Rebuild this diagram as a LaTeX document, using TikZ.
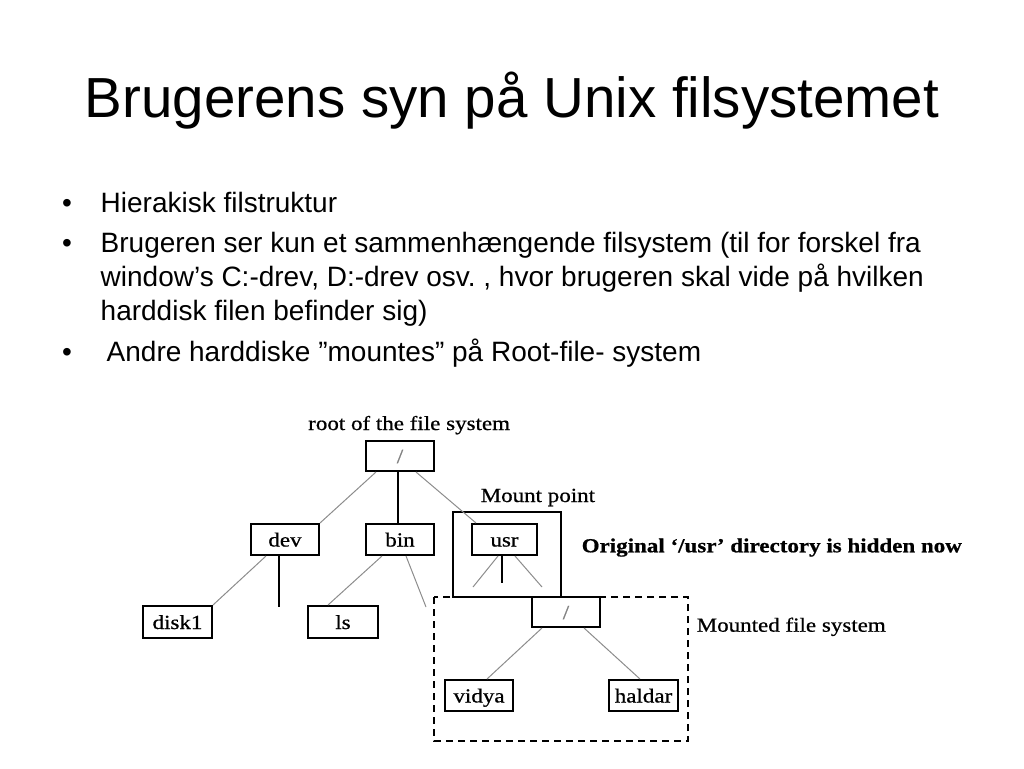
\documentclass[tikz,border=0pt]{standalone}
\usepackage{fontspec}
\setmainfont{Liberation Sans}
\newfontfamily\figfont[FakeStretch=1.15,FakeBold=0.7]{Liberation Serif}
\usetikzlibrary{positioning}
\usetikzlibrary{calc}
\frenchspacing

\begin{document}
\begin{tikzpicture}[x=1pt, y=-1pt,
  dirbox/.style={draw, line width=2pt, inner sep=0pt, minimum width=68pt, minimum height=31pt,
    text height=14pt, text depth=0pt, font=\figfont\fontsize{20}{20}\selectfont},
  figtext/.style={anchor=base west, inner sep=0pt, font=\figfont\fontsize{20}{20}\selectfont},
  slidetext/.style={anchor=base west, inner sep=0pt, font=\fontsize{28}{34}\selectfont},
  thin/.style={black!45, line width=1pt},
  thick/.style={black, line width=2pt}]

\useasboundingbox (0,0) rectangle (1024,768);

\node[anchor=base, inner sep=0pt, font=\fontsize{56.5}{60}\selectfont] (title) at (512,117.3) {Brugerens syn på Unix filsystemet};

\node[slidetext] (b1) at (62,212) {•};
\node[slidetext] (t1) at (100.5,212) {Hierakisk filstruktur};
\node[slidetext] (b2) at (62,252.3) {•};
\node[slidetext] (t2) at (100.5,252.3) {Brugeren ser kun et sammenhængende filsystem (til for forskel fra};
\node[slidetext] (t3) at (100.5,286.5) {window’s C:-drev, D:-drev osv. , hvor brugeren skal vide på hvilken};
\node[slidetext] (t4) at (100.5,320.5) {harddisk filen befinder sig)};
\node[slidetext] (b3) at (62,361.7) {•};
\node[slidetext] (t5) at (106.5,361.7) {Andre harddiske ”mountes” på Root-file- system};

% mount point and mounted file system
\draw[line width=2pt] (453,597) rectangle (561,512);
\draw[line width=2pt, dashed, dash pattern=on 7pt off 5pt] (434,597) rectangle (688,741);

\node[figtext] (rootlbl) at (308,430) {root of the file system};
\node[figtext] (mountlbl) at (480.5,502) {Mount point};
\node[figtext, font=\figfont\fontsize{20}{20}\selectfont\bfseries] (hidden) at (581.5,552.3) {Original ‘/usr’ directory is hidden now};
\node[figtext] (mountedlbl) at (696.5,631.7) {Mounted file system};

\node[dirbox, minimum height=30pt, text=black!50] (root) at (400,456) {/};
\node[dirbox] (dev) at (285,539.5) {dev};
\node[dirbox] (bin) at (400,539.5) {bin};
\node[dirbox, minimum width=65pt] (usr) at (504.5,539.5) {usr};
\node[dirbox, minimum width=69pt, minimum height=32pt] (disk1) at (177.5,622) {disk1};
\node[dirbox, minimum width=70pt, minimum height=32pt] (ls) at (343,622) {ls};
\node[dirbox, minimum height=30pt, fill=white, text=black!50] (mroot) at (566,612) {/};
\node[dirbox] (vidya) at (479,695.5) {vidya};
\node[dirbox, minimum width=69pt] (haldar) at (643.5,695.5) {haldar};

\coordinate (devend) at (279,607);
\coordinate (binend) at (426,607);
\coordinate (usra) at (473,587);
\coordinate (usrb) at (502,583);
\coordinate (usrc) at (542,587);

\draw[thin] ([xshift=11pt]root.south west) -- (dev.north east);
\draw[thick] ([xshift=-2pt]root.south) -- ([xshift=-2pt]bin.north);
\draw[thin] ([xshift=-19pt]root.south east) -- ([xshift=5pt]usr.north west);
\draw[thin] ([xshift=16pt]dev.south west) -- (disk1.north east);
\draw[thick] (dev.south -| devend) -- (devend);
\draw[thin] ([xshift=17pt]bin.south west) -- ([xshift=21pt]ls.north west);
\draw[thin] ([xshift=-29pt]bin.south east) -- (binend);
\draw[thin] ([xshift=-6.5pt]usr.south) -- (usra);
\draw[thick] (usr.south -| usrb) -- (usrb);
\draw[thin] ([xshift=10.5pt]usr.south) -- (usrc);
\draw[thin] ([xshift=11pt]mroot.south west) -- ([xshift=8pt]vidya.north);
\draw[thin] ([xshift=-17pt]mroot.south east) -- ([xshift=-3.5pt]haldar.north);

\end{tikzpicture}
\end{document}
